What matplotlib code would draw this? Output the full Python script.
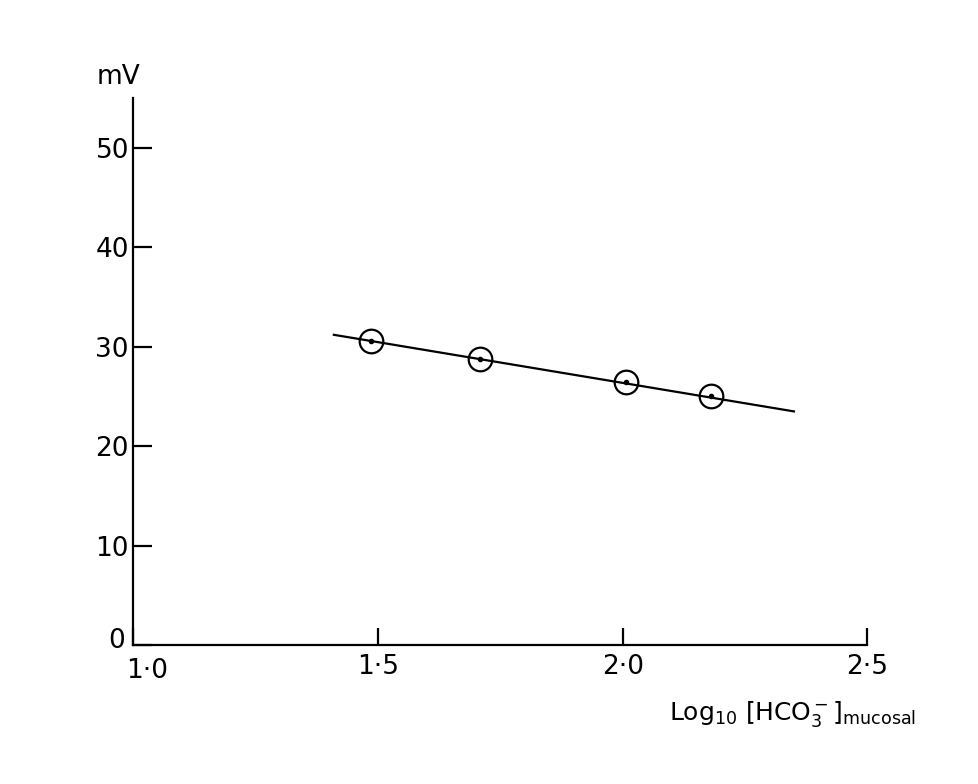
import numpy as np
import matplotlib.pyplot as plt
import matplotlib.transforms as mtransforms

# data
log_hco3 = [1.486, 1.708, 2.006, 2.18]
mv = [30.6, 28.8, 26.5, 25.0]
fit_x = [1.41, 2.35]
fit_y = [31.2, 23.5]

x_ticks = [1.0, 1.5, 2.0, 2.5]
x_labels = ["1·0", "1·5", "2·0", "2·5"]
y_ticks = [0, 10, 20, 30, 40, 50]
y_labels = ["0", "10", "20", "30", "40", "50"]

fig = plt.figure(figsize=(9.79, 7.84), dpi=100)
ax = fig.add_axes([0.136, 0.177, 0.750, 0.698])

ax.plot(fit_x, fit_y, color="black", lw=1.6)
ax.plot(log_hco3, mv, ls="none", marker="o", ms=17, mfc="none",
        mec="black", mew=1.6)
ax.plot(log_hco3, mv, ls="none", marker="o", ms=3, color="black")

ax.set_xlim(1.0, 2.5)
ax.set_ylim(0, 55)
for s in ["top", "right"]:
    ax.spines[s].set_visible(False)
ax.spines["left"].set_linewidth(1.6)
ax.spines["bottom"].set_linewidth(1.6)

ax.set_xticks(x_ticks, x_labels)
ax.set_yticks(y_ticks, y_labels)
ax.tick_params(axis="x", direction="in", length=12, width=1.6, pad=6,
               labelsize=19)
ax.tick_params(axis="y", direction="in", length=14, width=1.6, pad=3,
               labelsize=19)

# origin labels sit apart in the original sketch
shift = mtransforms.ScaledTranslation(0.14, -0.04, fig.dpi_scale_trans)
lbl = ax.get_xticklabels()[0]
lbl.set_transform(lbl.get_transform() + shift)
shift0 = mtransforms.ScaledTranslation(-0.04, 0.07, fig.dpi_scale_trans)
lbl0 = ax.get_yticklabels()[0]
lbl0.set_transform(lbl0.get_transform() + shift0)

ax.text(-0.05, 1.015, "mV", transform=ax.transAxes, fontsize=19,
        ha="left", va="bottom")
ax.text(0.73, -0.125, r"Log$_{10}$ [HCO$_3^-$]$_{\rm mucosal}$",
        transform=ax.transAxes, fontsize=18, ha="left", va="center")

fig.savefig("out.png", dpi=100, facecolor="white")
